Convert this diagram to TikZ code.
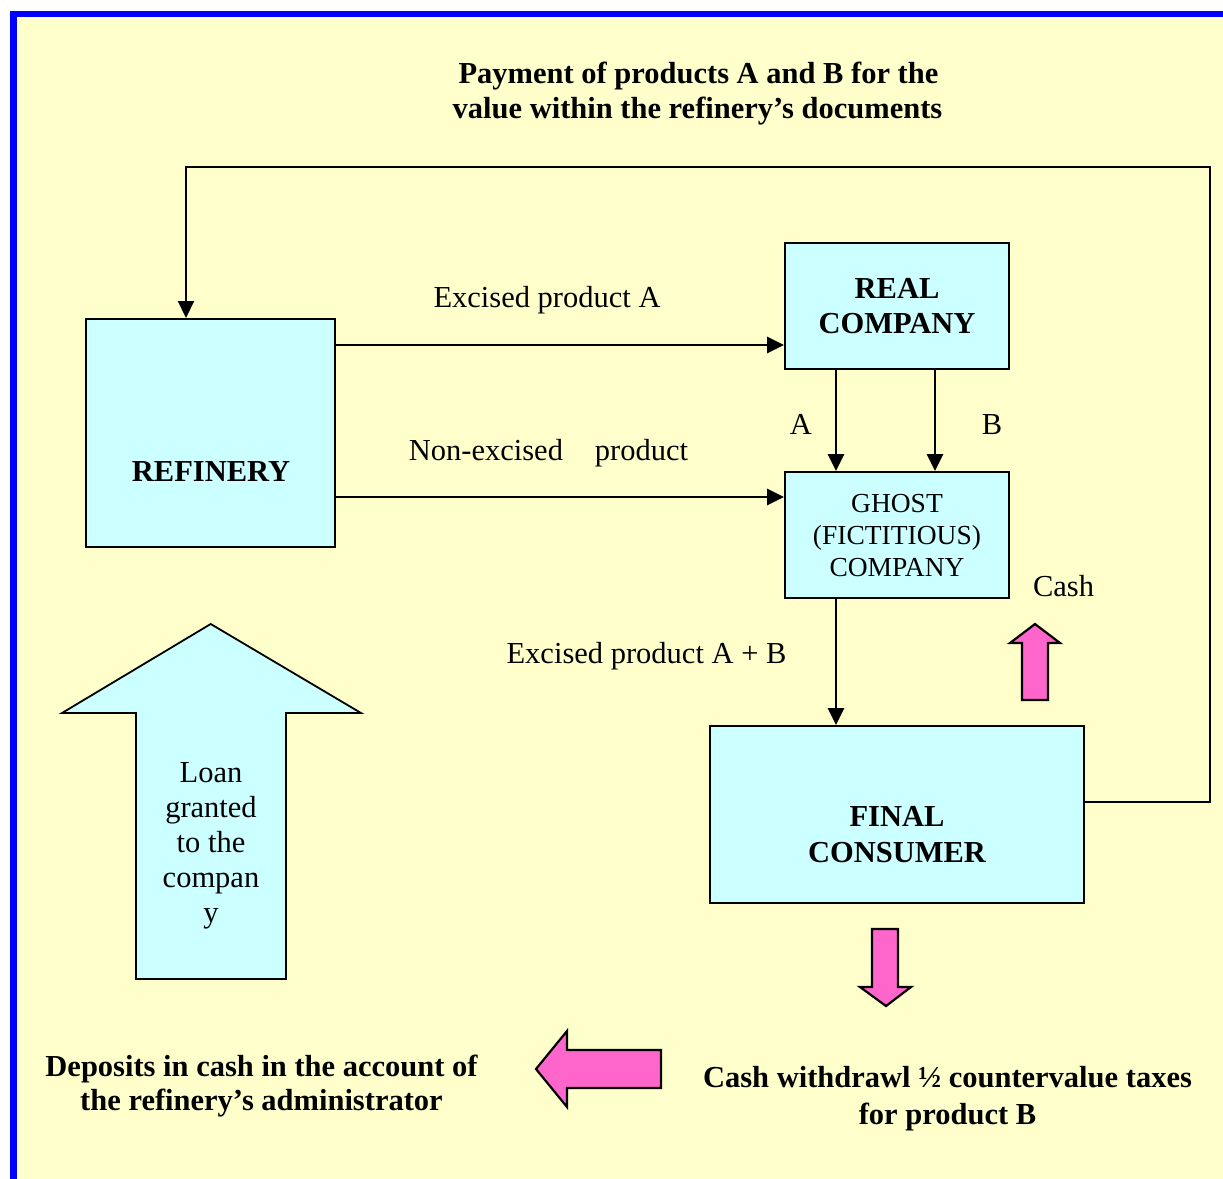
\documentclass[tikz,border=0pt]{standalone}
\usepackage{fontspec}
\setmainfont{Liberation Serif}
\usetikzlibrary{arrows.meta}
\definecolor{bgyellow}{HTML}{FFFFCC}
\definecolor{boxcyan}{HTML}{CCFFFF}
\definecolor{cashpink}{HTML}{FF66CC}
\definecolor{frameblue}{HTML}{0000FF}
\begin{document}
\begin{tikzpicture}[x=1pt,y=-1pt,
  box/.style={draw=black, line width=2pt, fill=boxcyan, inner sep=0pt},
  txt/.style={font=\fontsize{30.5}{35.3}\selectfont, inner sep=0pt, anchor=base},
  btxt/.style={font=\fontsize{30.5}{35.3}\selectfont\bfseries, inner sep=0pt, anchor=base},
  gtxt/.style={font=\fontsize{27.5}{32}\selectfont, inner sep=0pt, align=center},
  arr/.style={draw=black, line width=2.7pt, -{Triangle[length=17pt,width=16pt]}},
  blockarrow/.style={draw=black, line width=2.2pt, line join=miter},
]
\useasboundingbox (0,0) rectangle (1223,1178);
\clip (0,0) rectangle (1223,1178);
\fill[white] (0,0) rectangle (1223,1178);
% frame
\draw[frameblue, line width=6.5pt, fill=bgyellow] (13.5,14) rectangle (1270,1230);

% title
\node[btxt] (pay1) at (698.5,83) {Payment of products A and B for the};
\node[btxt] (pay2) at (697.5,118) {value within the refinery’s documents};

% boxes
\node[box, minimum width=249pt, minimum height=228pt] (ref) at (210.5,433) {};
\node[btxt] (reftxt) at (211,481) {REFINERY};
\node[box, minimum width=224pt, minimum height=126pt, align=center,
      font=\fontsize{30.5}{35.3}\selectfont\bfseries] (real) at (897,306) {REAL\\COMPANY};
\node[box, minimum width=224pt, minimum height=126pt] (ghost) at (897,535) {};
\node[gtxt] (ghosttxt) at (897,536) {GHOST\\(FICTITIOUS)\\COMPANY};
\node[box, minimum width=374pt, minimum height=177pt] (fc) at (897,814.5) {};
\node[btxt] (fc1) at (897,826) {FINAL};
\node[btxt] (fc2) at (897,862) {CONSUMER};

% connectors
\draw[arr] ([yshift=-39pt]real.west -| ref.east) -- ([yshift=-39pt]real.west);
\node[txt] (lexA) at (547,307) {Excised product A};
\draw[arr] ([yshift=38pt]ghost.west -| ref.east) -- ([yshift=38pt]ghost.west);
\node[txt] (lnon) at (548.5,460) {Non-excised\hspace{32pt}product};
\draw[arr] ([xshift=-61pt]real.south) -- ([xshift=-61pt]ghost.north);
\draw[arr] ([xshift=38pt]real.south) -- ([xshift=38pt]ghost.north);
\node[txt] (lA) at (801,434) {A};
\node[txt] (lB) at (992,434) {B};
\draw[arr] ([xshift=-61pt]ghost.south) -- ([xshift=-61pt]fc.north);
\node[txt] (lAB) at (646.5,663) {Excised product A + B};

\coordinate (c1) at (1210,802);
\coordinate (c2) at (1210,167);
\coordinate (c3) at (186,167);
\draw[arr, line width=2.2pt] ([yshift=12.5pt]fc.east) -- (c1) -- (c2) -- (c3) -- (c3 |- ref.north);

% cash up arrow
\draw[blockarrow, fill=cashpink] (1035,624) -- (1060,643) -- (1048,643) -- (1048,700)
  -- (1022,700) -- (1022,643) -- (1010,643) -- cycle;
\node[txt] (lcash) at (1063.5,596) {Cash};

% loan arrow
\draw[blockarrow, fill=boxcyan, line width=1.8pt] (210.7,624) -- (361,713) -- (286,713) -- (286,979)
  -- (136,979) -- (136,713) -- (62,713) -- cycle;
\node[txt] (loan1) at (211,782) {Loan};
\node[txt] (loan2) at (211,817) {granted};
\node[txt] (loan3) at (211,852) {to the};
\node[txt] (loan4) at (211,887) {compan};
\node[txt] (loan5) at (211,922) {y};

% down arrow
\draw[blockarrow, fill=cashpink] (886,1006) -- (911,987) -- (898,987) -- (898,929)
  -- (872,929) -- (872,987) -- (860,987) -- cycle;
% left arrow
\draw[blockarrow, fill=cashpink] (536,1069) -- (567,1031) -- (567,1050) -- (661,1050)
  -- (661,1088) -- (567,1088) -- (567,1107) -- cycle;

% bottom texts
\node[btxt] (dep1) at (261.5,1076) {Deposits in cash in the account of};
\node[btxt] (dep2) at (261.5,1110) {the refinery’s administrator};
\node[btxt] (wd1) at (947.5,1087) {Cash withdrawl ½ countervalue taxes};
\node[btxt] (wd2) at (947.5,1124) {for product B};
\end{tikzpicture}
\end{document}
